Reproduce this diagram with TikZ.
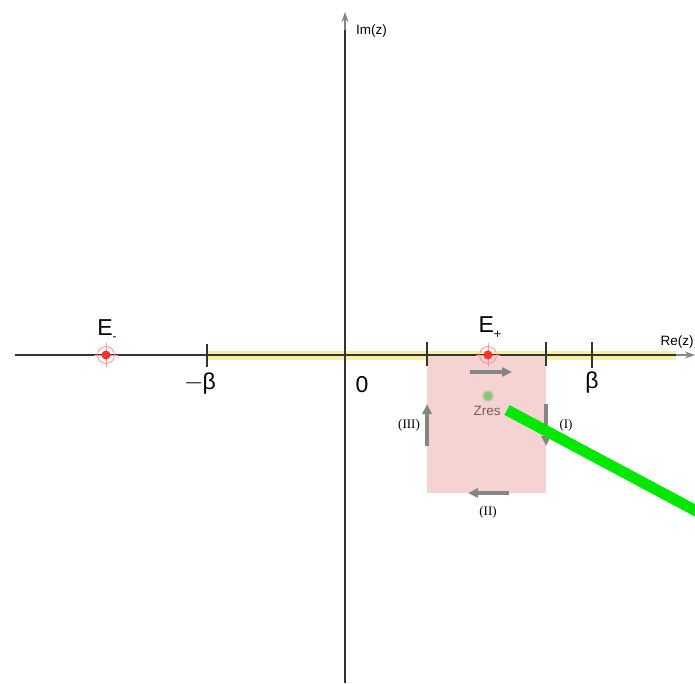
\documentclass[tikz,border=0pt]{standalone}
\usepackage{fontspec}
\setmainfont{Liberation Sans}
\newfontfamily\seriffont{Liberation Serif}
\usetikzlibrary{arrows.meta,shapes.misc,shapes.geometric,calc}
\definecolor{axisgrey}{HTML}{333333}
\definecolor{arrgrey}{HTML}{858585}
\definecolor{bandyellow}{HTML}{F6F1A6}
\definecolor{pinkbox}{HTML}{F5D3D3}
\definecolor{markred}{HTML}{FF3030}
\definecolor{zrescol}{HTML}{7A5A5A}
\definecolor{starcol}{HTML}{8CC47A}
\definecolor{brightgreen}{HTML}{00E800}
\tikzset{
  axis/.style={draw=axisgrey, line width=1.2pt},
  axistip/.style={draw=arrgrey, line width=1.2pt, -{Stealth[length=10pt,width=7pt]}},
  tickmark/.style={draw=axisgrey, line width=1.2pt},
  pathArrow/.style={draw=arrgrey, line width=3.5pt, -{Triangle[length=10pt,width=9pt]}},
  biglabel/.style={font=\fontsize{23}{25}\selectfont, inner sep=0pt},
  smalllabel/.style={font=\fontsize{13.5}{15}\selectfont, inner sep=0pt},
  romanlabel/.style={font=\seriffont\fontsize{13}{14}\selectfont, inner sep=0pt},
}
\newcommand{\polemark}[1]{%
  \draw[markred!60, line width=0.7pt] (#1) circle (8.5);
  \draw[markred!50, line width=0.5pt] ($(#1)+(-12,0)$) -- ($(#1)+(12,0)$);
  \draw[markred!50, line width=0.5pt] ($(#1)+(0,-12)$) -- ($(#1)+(0,12)$);
  \fill[markred] (#1) circle (4.5);
}
\begin{document}
\begin{tikzpicture}[x=1pt,y=-1pt]
\useasboundingbox (0,0) rectangle (695,683);
\fill[white] (0,0) rectangle (695,683);
% coordinates
\coordinate (xl) at (15,355);
\coordinate (xm) at (676,355);
\coordinate (xr) at (695,355);
\coordinate (yb) at (345,683);
\coordinate (ym) at (345,30);
\coordinate (yt) at (345,12);
% yellow band
\fill[bandyellow] (207,351) rectangle (676,360);
% pink box
\fill[pinkbox] (427,355) rectangle (546,493);
% axes
\draw[axis] (xl) -- (xm);
\draw[axistip] (xm) -- (xr);
\draw[axis] (yb) -- (ym);
\draw[axistip] (ym) -- (yt);
\node[smalllabel, anchor=west] (imlab) at (356,31) {Im(z)};
\node[smalllabel] (relab) at (677,342) {Re(z)};
% ticks
\draw[tickmark] (207,344) -- (207,367);
\draw[tickmark] (427,342) -- (427,366);
\draw[tickmark] (546,342) -- (546,366);
\draw[tickmark] (592,342) -- (592,368);
\node[biglabel] (mbeta) at (200,384) {$-$\kern-1pt β};
\node[biglabel] (zero) at (362,385) {0};
\node[biglabel] (beta) at (592,383) {β};
% poles
\coordinate (em) at (106,355);
\coordinate (ep) at (488,355);
\polemark{em}
\polemark{ep}
\node[biglabel] (emlab) at (107,330) {E\raisebox{-5pt}{\fontsize{12}{12}\selectfont -}};
\node[biglabel] (eplab) at (490,328) {E\raisebox{-6pt}{\fontsize{13}{13}\selectfont +}};
% contour arrows
\coordinate (t1) at (470,372); \coordinate (t2) at (512,372);
\draw[pathArrow] (t1) -- (t2);
\coordinate (r1) at (546,404); \coordinate (r2) at (546,446);
\draw[pathArrow] (r1) -- (r2);
\coordinate (b1) at (509,493); \coordinate (b2) at (468,493);
\draw[pathArrow] (b1) -- (b2);
\coordinate (l1) at (427,446); \coordinate (l2) at (427,404);
\draw[pathArrow] (l1) -- (l2);
\node[romanlabel] (lab1) at (566,425) {(I)};
\node[romanlabel] (lab2) at (488,512) {(II)};
\node[romanlabel] (lab3) at (409,425) {(III)};
% Zres
\node[star, star points=14, star point ratio=1.8, fill=starcol, inner sep=0pt, minimum size=13pt] (zstar) at (488,396) {};
\node[smalllabel, text=zrescol] (zres) at (487,411) {Zres};
% green line
\coordinate (g1) at (507,410);
\coordinate (g2) at (700,513);
\draw[brightgreen, line width=11pt] (g1) -- (g2);
\end{tikzpicture}
\end{document}
